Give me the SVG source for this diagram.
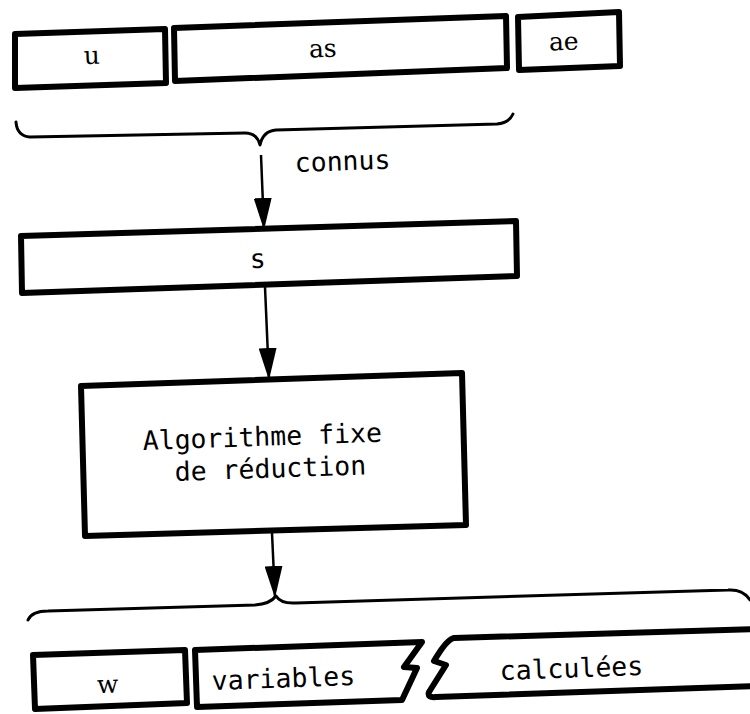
<svg xmlns="http://www.w3.org/2000/svg" width="750" height="714" viewBox="0 0 750 714">
<defs>
<style>
.box{fill:#fff;stroke:#000;stroke-width:6;stroke-linejoin:round}
.brace{fill:none;stroke:#000;stroke-width:3;stroke-linecap:round;stroke-linejoin:round}
.arrow{fill:none;stroke:#000;stroke-width:2.5}
.serif{font-family:"DejaVu Serif","Liberation Serif",serif;font-size:25px;fill:#000;text-anchor:middle}
.mono{font-family:"DejaVu Sans Mono","Liberation Mono",monospace;font-size:26.5px;fill:#000}
</style>
<marker id="head" markerUnits="userSpaceOnUse" viewBox="0 0 32 18" markerWidth="32" markerHeight="18" refX="32" refY="9" orient="auto">
<path d="M0,0 L32,9 L0,18 Z" fill="#000"/>
</marker>
</defs>
<rect width="750" height="714" fill="#fff"/>

<g id="n-u">
<polygon class="box" points="15,34 165,29 166,83 15,88"/>
<text class="serif" x="92" y="64" transform="rotate(-2 92 64)">u</text>
</g>
<g id="n-as">
<polygon class="box" points="174,28 506,16 507,68 175,81"/>
<text class="serif" x="323" y="57" transform="rotate(-2 323 57)">as</text>
</g>
<g id="n-ae">
<polygon class="box" points="518,17 619,12 620,66 519,70"/>
<text class="serif" x="564" y="50" transform="rotate(-2 564 50)">ae</text>
</g>

<g id="n-s">
<polygon class="box" points="21,236 516,221 517,276 22,293"/>
<text class="mono" x="258" y="268" text-anchor="middle" transform="rotate(-2 258 268)">s</text>
</g>

<g id="n-algo">
<polygon class="box" points="81,386 462,373 466,525 85,536"/>
<text class="mono" x="143" y="450" transform="rotate(-2 143 450)">Algorithme fixe</text>
<text class="mono" x="175" y="481" transform="rotate(-2 175 481)">de réduction</text>
</g>

<g id="n-w">
<polygon class="box" points="33,655 185,650 187,703 35,709"/>
<text class="serif" x="108" y="693" transform="rotate(-2 108 693)">w</text>
</g>
<g id="n-variables">
<polygon class="box" points="195,650 422,642 404,667 417,668 402,700 197,707"/>
<text class="mono" x="212" y="690" transform="rotate(-2 212 690)">variables</text>
</g>
<g id="n-calculees">
<path class="box" d="M756,629 L454,638 Q447,639 434,661 L446,665 L429,692 Q427,698 436,697 L756,686"/>
<text class="mono" x="500" y="680" transform="rotate(-2 500 680)">calculées</text>
</g>

<g id="connectors">
<path class="brace" d="M16,122 Q17,136 30,137 L245,133 Q257,133 260,145 Q263,131 276,130 L497,124 Q509,123 513,114"/>
<text class="mono" x="295" y="172" transform="rotate(-2 295 172)">connus</text>
<line class="arrow" x1="261" y1="155" x2="264" y2="230" marker-end="url(#head)"/>
<line class="arrow" x1="265" y1="287" x2="269" y2="380" marker-end="url(#head)"/>
<line class="arrow" x1="272" y1="533" x2="275" y2="598" marker-end="url(#head)"/>
<path class="brace" d="M28,620 Q32,611 48,611 L255,605 Q270,604 276,596 Q281,604 296,603 L728,590 Q743,589 750,600"/>
</g>
</svg>
